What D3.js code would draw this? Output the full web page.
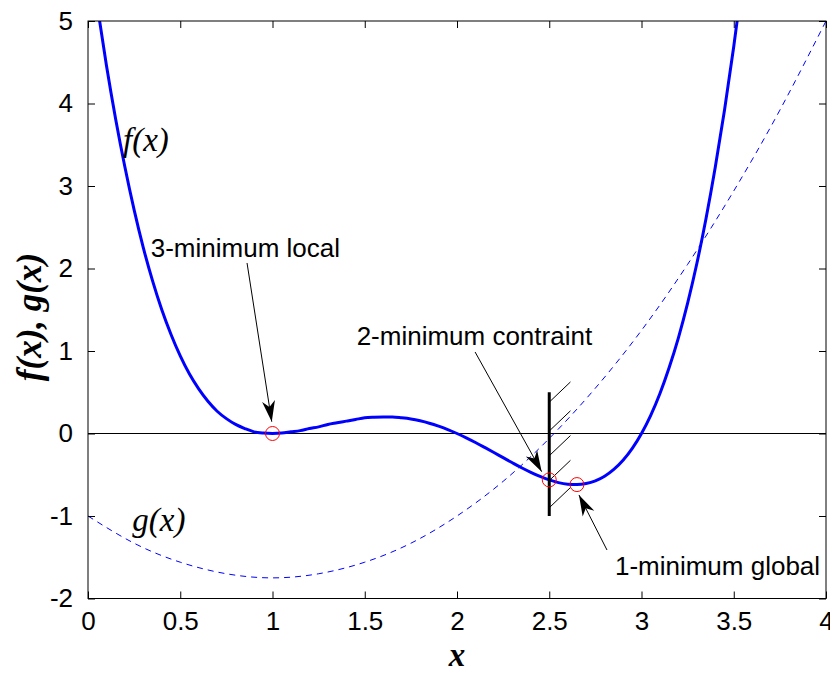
<!DOCTYPE html>
<html>
<head>
<meta charset="utf-8">
<script src="https://cdn.jsdelivr.net/npm/d3@7"></script>
<style>
  body { margin: 0; background: #fff; }
  text { font-family: "Liberation Sans", Arial, sans-serif; }
</style>
</head>
<body>
<div id="chart"></div>
<script>
// f(x)
var fX = [0, 0.05, 0.1, 0.15, 0.2, 0.25, 0.3, 0.35, 0.4, 0.45, 0.5, 0.55, 0.6, 0.65, 0.7, 0.75,
  0.8, 0.85, 0.9, 0.95, 1.0, 1.05, 1.1, 1.15, 1.2, 1.25, 1.3, 1.35, 1.4, 1.45, 1.5, 1.55,
  1.6, 1.65, 1.7, 1.75, 1.8, 1.85, 1.9, 1.95, 2.0, 2.05, 2.1, 2.15, 2.2, 2.25, 2.3, 2.35,
  2.4, 2.45, 2.5, 2.55, 2.6, 2.65, 2.7, 2.75, 2.8, 2.85, 2.9, 2.95, 3.0, 3.05, 3.1, 3.15,
  3.2, 3.25, 3.3, 3.35, 3.4, 3.45, 3.5, 3.55];
var fY = [6.0, 5.19, 4.46, 3.81, 3.23, 2.71, 2.25, 1.85, 1.50, 1.20, 0.94, 0.72, 0.54, 0.39, 0.27, 0.18,
  0.11, 0.06, 0.02, 0.005, 0, 0.005, 0.02, 0.035, 0.06, 0.08, 0.11, 0.13, 0.15, 0.17, 0.19, 0.197,
  0.20, 0.20, 0.19, 0.176, 0.154, 0.125, 0.089, 0.047, 0, -0.052, -0.109, -0.169, -0.23, -0.293, -0.355, -0.415,
  -0.47, -0.52, -0.5625, -0.595, -0.614, -0.619, -0.607, -0.574, -0.518, -0.436, -0.325, -0.181, 0, 0.22, 0.485, 0.80,
  1.16, 1.58, 2.06, 2.61, 3.23, 3.92, 4.69, 5.54];

// g(x)
var gX = [0, 0.25, 0.5, 0.75, 1.0, 1.25, 1.5, 1.75, 2.0, 2.25, 2.5, 2.75, 3.0, 3.25, 3.5, 3.75, 4.0];
var gY = [-1, -1.33, -1.56, -1.70, -1.75, -1.70, -1.56, -1.33, -1, -0.58, -0.06, 0.55, 1.25, 2.05, 2.94, 3.92, 5];

// minima marked with red circles
var minX = [1.0, 2.5, 2.65];
var minY = [0, -0.5625, -0.619];

// constraint wall x = 2.5 and its hatch start heights
var wallX = 2.5;
var wallY = [-1, 0.5];
var hatchY = [0.38, 0.03, -0.27, -0.57, -0.9];

var xTicks = [0, 0.5, 1, 1.5, 2, 2.5, 3, 3.5, 4];
var yTicks = [-2, -1, 0, 1, 2, 3, 4, 5];

var notes = [
  {text: "3-minimum local", x: 0.34, y: 2.14, from: [0.862, 2.067], to: [0.996, 0.143]},
  {text: "2-minimum contraint", x: 1.456, y: 1.073, from: [2.098, 0.988], to: [2.459, -0.463]},
  {text: "1-minimum global", x: 2.856, y: -1.715, from: [2.813, -1.412], to: [2.661, -0.745]}
];

var width = 830, height = 673;

var x = d3.scaleLinear().domain([0, 4]).range([88, 826]);
var y = d3.scaleLinear().domain([-2, 5]).range([598.5, 21]);

var svg = d3.select("#chart").append("svg")
  .attr("width", width)
  .attr("height", height);

svg.append("defs").append("clipPath").attr("id", "plot")
  .append("rect")
  .attr("x", x(0)).attr("y", y(5))
  .attr("width", x(4) - x(0)).attr("height", y(-2) - y(5));

svg.select("defs").append("marker")
  .attr("id", "head")
  .attr("markerUnits", "userSpaceOnUse")
  .attr("viewBox", "-21 -8 22 16")
  .attr("refX", 0).attr("refY", 0)
  .attr("markerWidth", 22).attr("markerHeight", 16)
  .attr("orient", "auto")
  .append("path")
  .attr("d", "M0,0 L-21,-6.5 L-15,0 L-21,6.5 Z")
  .attr("fill", "#000");

var plot = svg.append("g").attr("clip-path", "url(#plot)");

// zero line
plot.append("line")
  .attr("x1", x(0)).attr("x2", x(4))
  .attr("y1", y(0)).attr("y2", y(0))
  .attr("stroke", "#000").attr("stroke-width", 1);

var line = d3.line()
  .x(function(d) { return x(d[0]); })
  .y(function(d) { return y(d[1]); });

plot.append("path")
  .datum(gX.map(function(v, i) { return [v, gY[i]]; }))
  .attr("d", line.curve(d3.curveNatural))
  .attr("fill", "none")
  .attr("stroke", "#0000ff")
  .attr("stroke-width", 1)
  .attr("stroke-dasharray", "6,5");

plot.append("path")
  .datum(fX.map(function(v, i) { return [v, fY[i]]; }))
  .attr("d", line.curve(d3.curveMonotoneX))
  .attr("fill", "none")
  .attr("stroke", "#0000ff")
  .attr("stroke-width", 3)
  .attr("stroke-linejoin", "round");

// constraint wall with hatching
plot.selectAll(".hatch")
  .data(hatchY)
  .enter()
  .append("line")
  .attr("class", "hatch")
  .attr("x1", x(wallX)).attr("y1", function(d) { return y(d); })
  .attr("x2", x(wallX + 0.115)).attr("y2", function(d) { return y(d + 0.245); })
  .attr("stroke", "#000").attr("stroke-width", 1);

plot.append("line")
  .attr("x1", x(wallX)).attr("x2", x(wallX))
  .attr("y1", y(wallY[0])).attr("y2", y(wallY[1]))
  .attr("stroke", "#000").attr("stroke-width", 3);

plot.selectAll(".min")
  .data(minX)
  .enter()
  .append("circle")
  .attr("class", "min")
  .attr("cx", function(d) { return x(d); })
  .attr("cy", function(d, i) { return y(minY[i]); })
  .attr("r", 7)
  .attr("fill", "none")
  .attr("stroke", "#ff0000")
  .attr("stroke-width", 1);

// annotations
svg.selectAll(".arrow")
  .data(notes)
  .enter()
  .append("line")
  .attr("class", "arrow")
  .attr("x1", function(d) { return x(d.from[0]); })
  .attr("y1", function(d) { return y(d.from[1]); })
  .attr("x2", function(d) { return x(d.to[0]); })
  .attr("y2", function(d) { return y(d.to[1]); })
  .attr("stroke", "#000").attr("stroke-width", 1)
  .attr("marker-end", "url(#head)");

svg.selectAll(".note")
  .data(notes)
  .enter()
  .append("text")
  .attr("class", "note")
  .attr("x", function(d) { return x(d.x); })
  .attr("y", function(d) { return y(d.y); })
  .attr("font-size", 26)
  .text(function(d) { return d.text; });

svg.append("text")
  .attr("x", x(0.19)).attr("y", y(3.42))
  .style("font-family", "'Liberation Serif', 'Times New Roman', serif")
  .style("font-style", "italic")
  .attr("font-size", 33)
  .text("f(x)");

svg.append("text")
  .attr("x", x(0.24)).attr("y", y(-1.18))
  .style("font-family", "'Liberation Serif', 'Times New Roman', serif")
  .style("font-style", "italic")
  .attr("font-size", 33)
  .text("g(x)");

// axes box with inward ticks on all sides
svg.append("rect")
  .attr("x", x(0)).attr("y", y(5))
  .attr("width", x(4) - x(0)).attr("height", y(-2) - y(5))
  .attr("fill", "none").attr("stroke", "#000").attr("stroke-width", 1);

function axisStyle(g) {
  g.select(".domain").remove();
  g.selectAll(".tick line").attr("stroke", "#000");
  g.selectAll(".tick text").attr("fill", "#000").style("font-size", "26px")
    .style("font-family", "'Liberation Sans', Arial, sans-serif");
}

svg.append("g")
  .attr("transform", "translate(0," + y(-2) + ")")
  .call(d3.axisBottom(x).tickValues(xTicks).tickSize(-7).tickPadding(13).tickFormat(String))
  .call(axisStyle);

svg.append("g")
  .attr("transform", "translate(0," + y(5) + ")")
  .call(d3.axisTop(x).tickValues(xTicks).tickSize(-7).tickFormat(""))
  .call(axisStyle);

svg.append("g")
  .attr("transform", "translate(" + x(0) + ",0)")
  .call(d3.axisLeft(y).tickValues(yTicks).tickSize(-7).tickPadding(15).tickFormat(String))
  .call(axisStyle);

svg.append("g")
  .attr("transform", "translate(" + x(4) + ",0)")
  .call(d3.axisRight(y).tickValues(yTicks).tickSize(-7).tickFormat(""))
  .call(axisStyle);

// axis labels
svg.append("text")
  .attr("x", (x(0) + x(4)) / 2).attr("y", 666)
  .attr("text-anchor", "middle")
  .style("font-family", "'Liberation Serif', 'Times New Roman', serif")
  .style("font-style", "italic").style("font-weight", "bold")
  .attr("font-size", 33)
  .text("x");

svg.append("text")
  .attr("transform", "translate(41," + 317 + ") rotate(-90)")
  .attr("text-anchor", "middle")
  .style("font-family", "'Liberation Serif', 'Times New Roman', serif")
  .style("font-style", "italic").style("font-weight", "bold")
  .attr("font-size", 35)
  .text("f(x), g(x)");
</script>
</body>
</html>
